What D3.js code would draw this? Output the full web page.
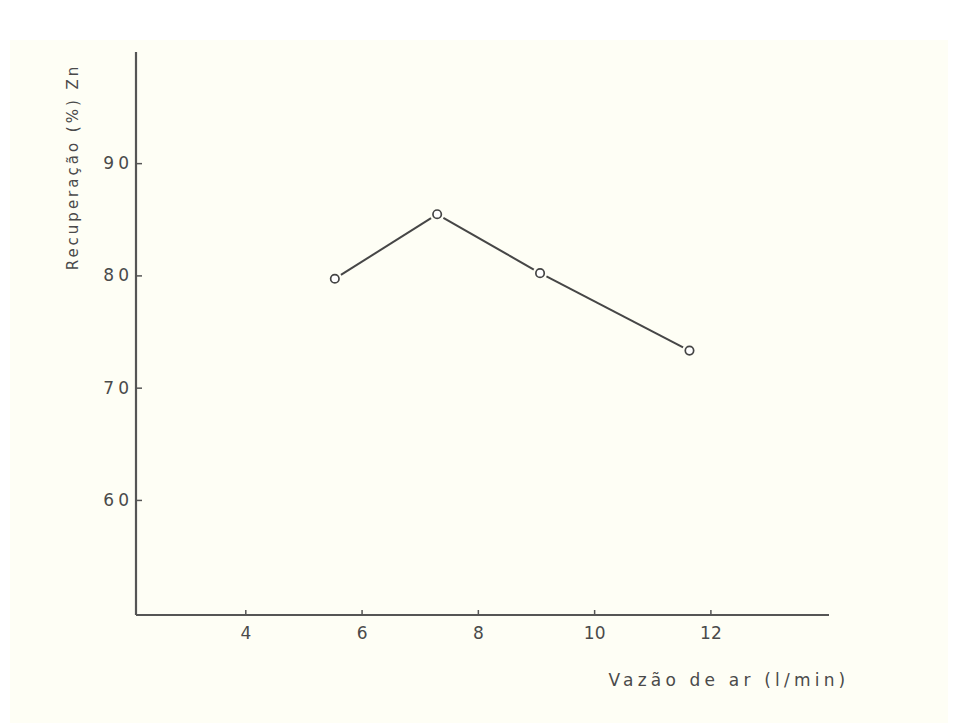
<!DOCTYPE html>
<html>
<head>
<meta charset="utf-8">
<script src="https://cdn.jsdelivr.net/npm/d3@7"></script>
<style>
  html, body { margin: 0; padding: 0; background: #ffffff; }
  svg { display: block; }
  text { font-family: "DejaVu Sans", sans-serif; fill: #4a4a4a; }
</style>
</head>
<body>
<svg id="chart" width="958" height="723"></svg>
<script>
// Air flow rate (l/min) and zinc recovery (%)
const vazao = [5.54, 7.30, 9.07, 11.64];
const recuperacao = [79.7, 85.45, 80.2, 73.3];
const xTicks = [4, 6, 8, 10, 12];
const xTickLabels = ["4", "6", "8", "10", "12"];
const yTicks = [60, 70, 80, 90];
const yTickLabels = ["60", "70", "80", "90"];
const xTitle = "Vazão de ar (l/min)";
const yTitle = "Recuperação (%) Zn";

const svg = d3.select("#chart");
const W = 958, H = 723;

// paper tone
svg.append("rect").attr("width", W).attr("height", H).attr("fill", "#ffffff");
svg.append("rect").attr("x", 10).attr("y", 40).attr("width", W - 20).attr("height", H - 40)
  .attr("fill", "#fefef5");

const plotLeft = 136, plotRight = 829, plotTop = 52, plotBottom = 615;

const x = d3.scaleLinear().domain([2.12, 14.04]).range([plotLeft, plotRight]);
const y = d3.scaleLinear().domain([49.75, 99.9]).range([plotBottom, plotTop]);

const ink = "#555555";

// axes with inward ticks
const gx = svg.append("g").attr("transform", `translate(0,${plotBottom})`)
  .call(d3.axisBottom(x).tickValues(xTicks).tickSize(-5).tickPadding(10)
    .tickFormat((d, i) => xTickLabels[i]));
gx.selectAll(".tick line").attr("stroke", ink).attr("stroke-width", 1.5);
gx.selectAll(".tick text").attr("font-size", 17).attr("dy", "0.8em")
  .attr("font-family", "DejaVu Sans, sans-serif").attr("fill", "#4a4a4a");

const gy = svg.append("g").attr("transform", `translate(${plotLeft},0)`)
  .call(d3.axisLeft(y).tickValues(yTicks).tickSize(-6).tickPadding(3)
    .tickFormat((d, i) => yTickLabels[i]));
gy.selectAll(".tick line").attr("stroke", ink).attr("stroke-width", 1.5);
gy.selectAll(".tick text").attr("font-size", 17).attr("letter-spacing", 4)
  .attr("font-family", "DejaVu Sans, sans-serif").attr("fill", "#4a4a4a");

// axis lines as a plain L-shape (no end caps)
gx.select(".domain").attr("d", `M${plotLeft},0H${plotRight}`)
  .attr("stroke", ink).attr("stroke-width", 2.2);
gy.select(".domain").attr("d", `M0,${plotTop}V${plotBottom}`)
  .attr("stroke", ink).attr("stroke-width", 2.2);

// connecting segments, stopping short of the markers
const pts = vazao.map((v, i) => [x(v), y(recuperacao[i])]);
const r = 4.2, gap = 3;
for (let i = 0; i < pts.length - 1; i++) {
  const [x1, y1] = pts[i], [x2, y2] = pts[i + 1];
  const len = Math.hypot(x2 - x1, y2 - y1);
  const ux = (x2 - x1) / len, uy = (y2 - y1) / len;
  const off = r + gap;
  svg.append("line")
    .attr("x1", x1 + ux * off).attr("y1", y1 + uy * off)
    .attr("x2", x2 - ux * off).attr("y2", y2 - uy * off)
    .attr("stroke", "#464646").attr("stroke-width", 2);
}

svg.selectAll("circle.pt").data(pts).enter().append("circle")
  .attr("class", "pt")
  .attr("cx", d => d[0]).attr("cy", d => d[1]).attr("r", r)
  .attr("fill", "#ffffff").attr("stroke", "#444444").attr("stroke-width", 1.7);

// axis titles
svg.append("text").attr("x", 729).attr("y", 686)
  .attr("text-anchor", "middle").attr("font-size", 17).attr("letter-spacing", 4.2)
  .text(xTitle);

svg.append("text").attr("transform", "translate(78,167) rotate(-90)")
  .attr("text-anchor", "middle").attr("font-size", 15).attr("letter-spacing", 3)
  .text(yTitle);
</script>
</body>
</html>
